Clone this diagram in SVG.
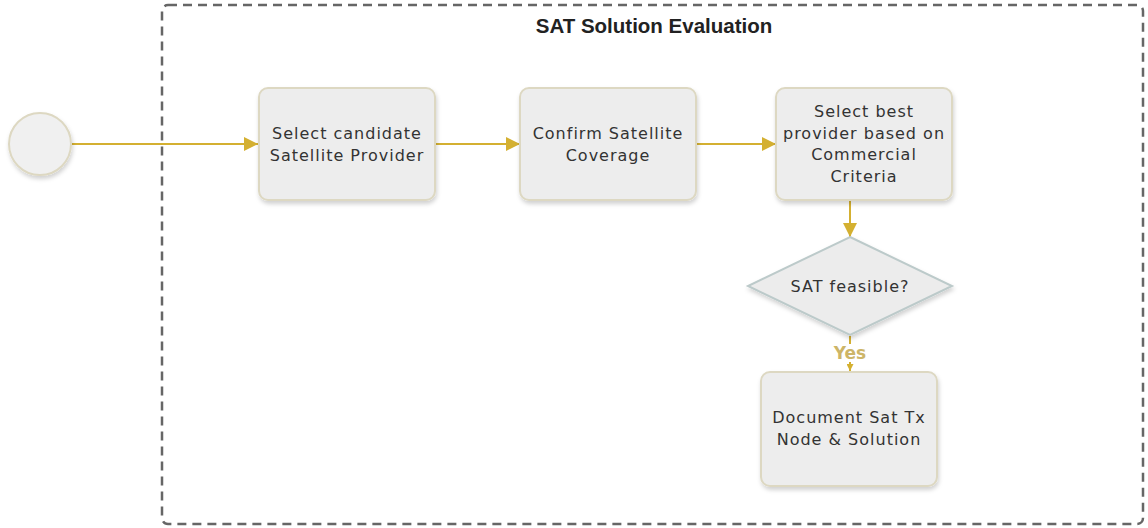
<svg xmlns="http://www.w3.org/2000/svg" width="1148" height="528" viewBox="0 0 1148 528">
<defs>
<filter id="sh" x="-10%" y="-10%" width="125%" height="130%">
<feDropShadow dx="1" dy="3" stdDeviation="2" flood-color="#000" flood-opacity="0.18"/>
</filter>
<marker id="ah" viewBox="0 0 10 10" refX="10" refY="5" markerWidth="14" markerHeight="14" markerUnits="userSpaceOnUse" orient="auto">
<path d="M0,0 L10,5 L0,10 z" fill="#d4b031"/>
</marker>
<marker id="ahs" viewBox="0 0 10 10" refX="10" refY="5" markerWidth="7" markerHeight="7" markerUnits="userSpaceOnUse" orient="auto">
<path d="M0,0 L10,5 L0,10 z" fill="#d4b031"/>
</marker>
</defs>
<style>
.box{fill:#ededed;stroke:#ddd8c2;stroke-width:2;filter:url(#sh)}
.t{font-family:"DejaVu Sans",Verdana,sans-serif;font-size:16px;letter-spacing:1px;fill:#333;text-anchor:middle}
.c{stroke:#d4b031;stroke-width:2;fill:none}
</style>
<rect width="1148" height="528" fill="#fff"/>
<g id="pool">
<rect x="162" y="5" width="981" height="519" rx="6" fill="none" stroke="#666" stroke-width="2.5" stroke-dasharray="9,6"/>
<text x="654" y="33" font-family="'Liberation Sans',Arial,sans-serif" font-size="20.5" font-weight="bold" fill="#222" text-anchor="middle">SAT Solution Evaluation</text>
</g>
<g id="connectors">
<line class="c" x1="72" y1="144" x2="258" y2="144" marker-end="url(#ah)"/>
<line class="c" x1="435" y1="144" x2="520" y2="144" marker-end="url(#ah)"/>
<line class="c" x1="696" y1="144" x2="776" y2="144" marker-end="url(#ah)"/>
<line class="c" x1="850" y1="201" x2="850" y2="237" marker-end="url(#ah)"/>
<line class="c" x1="850" y1="336" x2="850" y2="344"/>
<line class="c" x1="850" y1="362" x2="850" y2="371" marker-end="url(#ahs)"/>
<text x="850" y="359" font-family="'DejaVu Sans',Verdana,sans-serif" font-size="17" font-weight="bold" fill="#cdb567" text-anchor="middle">Yes</text>
</g>
<g id="start">
<circle cx="40" cy="144" r="31" fill="#f0f0f0" stroke="#ddd8c2" stroke-width="2" filter="url(#sh)"/>
</g>
<g id="n1">
<rect class="box" x="259" y="88" width="176" height="112" rx="9"/>
<text class="t" x="347" y="139">Select candidate</text>
<text class="t" x="347" y="161">Satellite Provider</text>
</g>
<g id="n2">
<rect class="box" x="520" y="88" width="176" height="112" rx="9"/>
<text class="t" x="608" y="139">Confirm Satellite</text>
<text class="t" x="608" y="161">Coverage</text>
</g>
<g id="n3">
<rect class="box" x="776" y="88" width="176" height="112" rx="9"/>
<text class="t" x="864" y="117">Select best</text>
<text class="t" x="864" y="139">provider based on</text>
<text class="t" x="864" y="160">Commercial</text>
<text class="t" x="864" y="182">Criteria</text>
</g>
<g id="d1">
<polygon points="850,237 952,286 850,335 748,286" fill="#ececec" stroke="#bccaca" stroke-width="2" filter="url(#sh)"/>
<text class="t" x="850" y="292">SAT feasible?</text>
</g>
<g id="n4">
<rect class="box" x="761" y="372" width="176" height="114" rx="9"/>
<text class="t" x="849" y="423">Document Sat Tx</text>
<text class="t" x="849" y="445">Node &amp; Solution</text>
</g>
</svg>
